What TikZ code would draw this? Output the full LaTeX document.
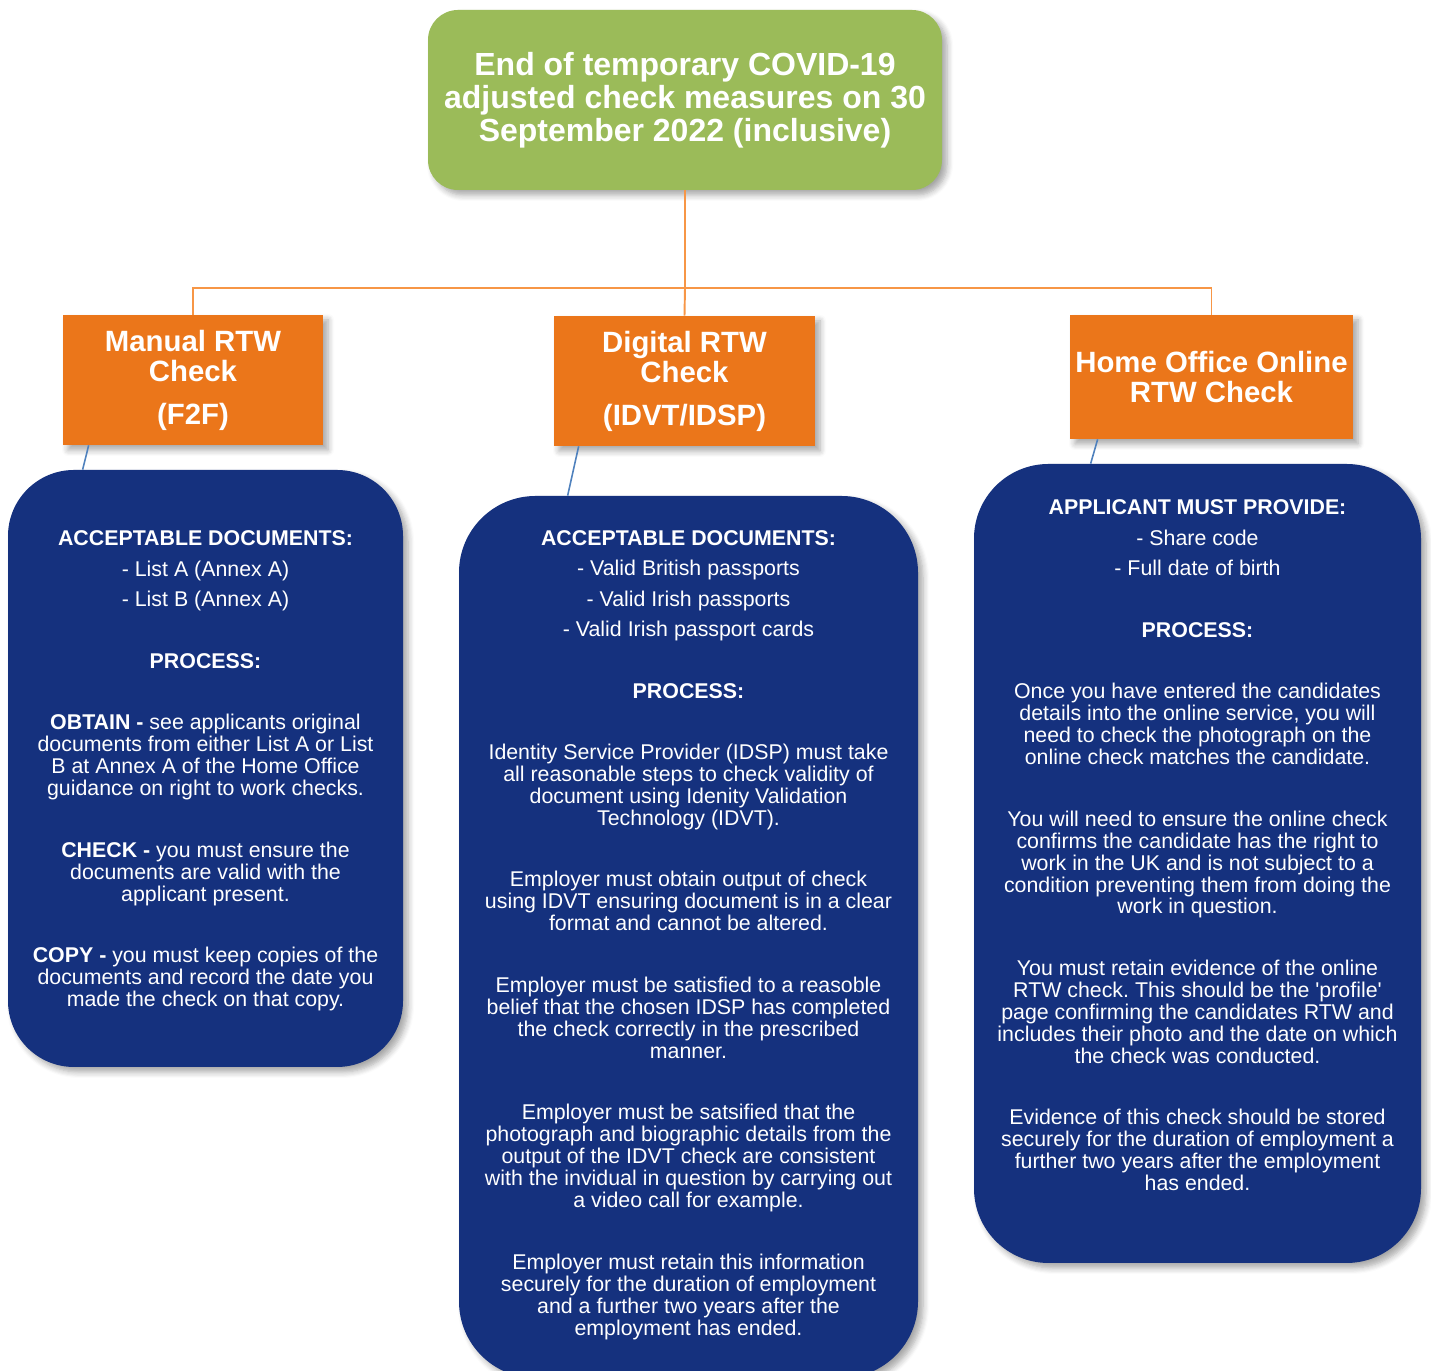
\documentclass[tikz,border=0pt]{standalone}
\usepackage{fontspec}
\setmainfont{Liberation Sans}[Ligatures=TeXOff]
\frenchspacing
\usetikzlibrary{shadows.blur}
\definecolor{titlegreen}{RGB}{155,187,89}
\definecolor{checkorange}{RGB}{235,118,26}
\definecolor{linkorange}{RGB}{247,150,70}
\definecolor{panelblue}{RGB}{21,49,126}
\definecolor{linkblue}{RGB}{79,129,189}

\begin{document}
\begin{tikzpicture}[
    soft shadow/.style={blur shadow={shadow xshift=0.1cm, shadow yshift=-0.1cm, shadow blur steps=6, shadow blur radius=0.12cm, shadow opacity=35}},
    check box/.style={soft shadow, fill=checkorange, text=white, inner sep=0pt, align=center, font=\fontsize{16.7}{17.1}\selectfont\bfseries},
    panel/.style={soft shadow, fill=panelblue, inner sep=0pt},
    panel text/.style={text=white, align=center, font=\fontsize{12.15}{12.5}\selectfont},
    orange link/.style={linkorange, line width=1.1pt},
    blue link/.style={linkblue, line width=0.9pt}
]
\useasboundingbox (0,0) rectangle (28.62,27.42);
\clip (0,0) rectangle (28.62,27.42);

\node[soft shadow, fill=titlegreen, rounded corners=0.6cm, minimum width=10.28cm, minimum height=3.6cm, inner sep=0pt, text=white, align=center, font=\fontsize{18.2}{18.8}\selectfont\bfseries] (covid) at (13.70,25.42) {End of temporary COVID-19\\adjusted check measures on 30\\September 2022 (inclusive)};

\node[check box, minimum width=5.2cm, minimum height=2.6cm] (manual) at (3.86,19.82) {Manual RTW\\Check\\[7.4pt](F2F)};
\node[check box, minimum width=5.22cm, minimum height=2.6cm] (digital) at (13.69,19.80) {Digital RTW\\Check\\[7.4pt](IDVT/IDSP)};
\node[check box, minimum width=5.66cm, minimum height=2.48cm] (homeoffice) at (24.23,19.88) {Home Office Online\\RTW Check};

\node[panel, rounded corners=1.32cm, minimum width=7.9cm, minimum height=11.94cm] (manualpanel) at (4.11,12.05) {};
\node[panel, rounded corners=1.53cm, minimum width=9.18cm, minimum height=17.64cm] (digitalpanel) at (13.77,8.68) {};
\node[panel, rounded corners=1.49cm, minimum width=8.94cm, minimum height=15.98cm] (homepanel) at (23.95,10.15) {};

\node[panel text] (manualtext) at (4.11,12.0) {\textbf{ACCEPTABLE DOCUMENTS:}\\[4.8pt]- List A (Annex A)\\[4.8pt]- List B (Annex A)\\[22.5pt]\textbf{PROCESS:}\\[22.5pt]\textbf{OBTAIN -} see applicants original\\documents from either List A or List\\B at Annex A of the Home Office\\guidance on right to work checks.\\[22.5pt]\textbf{CHECK -} you must ensure the\\documents are valid with the\\applicant present.\\[22.5pt]\textbf{COPY -} you must keep copies of the\\documents and record the date you\\made the check on that copy.};

\node[panel text] (digitaltext) at (13.77,8.72) {\textbf{ACCEPTABLE DOCUMENTS:}\\[4.8pt]- Valid British passports\\[4.8pt]- Valid Irish passports\\[4.8pt]- Valid Irish passport cards\\[22.5pt]\textbf{PROCESS:}\\[22.5pt]Identity Service Provider (IDSP) must take\\all reasonable steps to check validity of\\document using Idenity Validation\\Technology (IDVT).\\[22.5pt]Employer must obtain output of check\\using IDVT ensuring document is in a clear\\format and cannot be altered.\\[22.5pt]Employer must be satisfied to a reasoble\\belief that the chosen IDSP has completed\\the check correctly in the prescribed\\manner.\\[22.5pt]Employer must be satsified that the\\photograph and biographic details from the\\output of the IDVT check are consistent\\with the invidual in question by carrying out\\a video call for example.\\[22.5pt]Employer must retain this information\\securely for the duration of employment\\and a further two years after the\\employment has ended.};

\node[panel text] (hometext) at (23.95,10.51) {\textbf{APPLICANT MUST PROVIDE:}\\[4.8pt]- Share code\\[4.8pt]- Full date of birth\\[22.5pt]\textbf{PROCESS:}\\[22.5pt]Once you have entered the candidates\\details into the online service, you will\\need to check the photograph on the\\online check matches the candidate.\\[22.5pt]You will need to ensure the online check\\confirms the candidate has the right to\\work in the UK and is not subject to a\\condition preventing them from doing the\\work in question.\\[22.5pt]You must retain evidence of the online\\RTW check. This should be the 'profile'\\page confirming the candidates RTW and\\includes their photo and the date on which\\the check was conducted.\\[22.5pt]Evidence of this check should be stored\\securely for the duration of employment a\\further two years after the employment\\has ended.};

\coordinate (fork) at (13.70,21.66);
\draw[orange link] (covid.south) -- (fork);
\draw[orange link] (fork) -| (manual.north);
\draw[orange link] (fork) -- (digital.north);
\draw[orange link] (fork) -| (homeoffice.north);

\draw[blue link] ([xshift=0.52cm]manual.south west) -- ([xshift=1.5cm]manualpanel.north west);
\draw[blue link] ([xshift=0.5cm]digital.south west) -- ([xshift=2.18cm]digitalpanel.north west);
\draw[blue link] ([xshift=0.56cm]homeoffice.south west) -- ([xshift=2.34cm]homepanel.north west);

\end{tikzpicture}
\end{document}
